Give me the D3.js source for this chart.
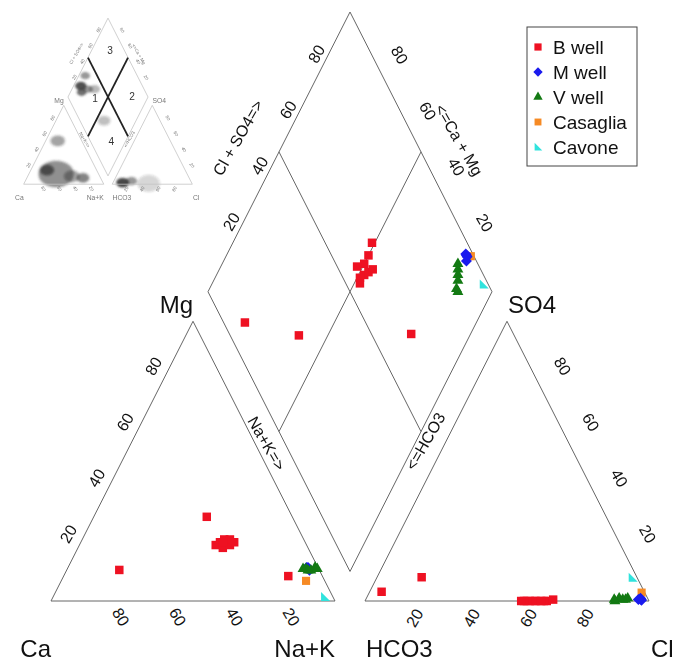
<!DOCTYPE html>
<html>
<head>
<meta charset="utf-8">
<script src="https://cdn.jsdelivr.net/npm/d3@7"></script>
<style>
  body { margin: 0; background: #fff; }
  svg { display: block; font-family: "Liberation Sans", Arial, sans-serif; }
</style>
</head>
<body>
<svg id="chart" width="674" height="661"></svg>
<script>
// ---- data -------------------------------------------------------------
const seriesNames  = ["B well", "M well", "V well", "Casaglia", "Cavone"];
const seriesColors = ["#ee1122", "#1a1aee", "#137a13", "#f68a24", "#30e3dd"];
// drawing order of the series (later ones sit on top)
const seriesOrder  = [0, 3, 4, 1, 2];

// one entry per sample: series index, Mg %, Na+K % (Ca is the remainder),
// SO4 %, Cl % (HCO3 is the remainder) — all in meq %
const sampleSeries = [0, 0, 0, 0, 0, 0, 0, 0, 0, 0, 0, 0,
                      1, 1, 1, 1,
                      2, 2, 2, 2, 2, 2,
                      3,
                      4];
const mgPct  = [11.1, 30.1, 8.9, 21, 22, 20, 21, 19, 20, 22, 21, 21,
                12, 12, 11.5, 11,
                11.5, 11.5, 11, 11, 12, 11.5,
                7.2,
                1.4];
const naKPct = [18.5, 39.8, 79.1, 49, 50, 48, 52, 51, 53, 52, 50, 54,
                84.5, 84, 85, 85.5,
                83, 84, 85, 86, 87, 88,
                86.2,
                95.8];
const so4Pct = [3.3, 8.5, 0, 0.5, 0, 0, 0, 0, 0, 0, 0, 0,
                0.5, 1, 0.3, 0.5,
                1, 0.5, 0.5, 1, 0, 0.5,
                3,
                8.3];
const clPct  = [4.2, 15.7, 64, 66, 60, 57, 58, 56, 60, 55, 63, 62,
                97, 96.5, 97.2, 96,
                92, 91.5, 90.5, 89, 88, 87.5,
                95.9,
                90.1];

const tickValues = [20, 40, 60, 80];

// background classification sketch: density clouds of a reference data set
// (cation: Mg %, Na+K % | diamond: Na+K %, Cl+SO4 % | anion: SO4 %, Cl %)
const cloudPlot = ["dia", "dia", "dia", "dia", "dia", "cat", "cat", "cat", "cat", "cat", "ani", "ani", "ani", "dia"];
const cloudA    = [9, 14, 20, 28, 8, 13, 18, 10, 55, 8, 2, 4, 1, 60];
const cloudB    = [23, 20, 30, 38, 35, 34, 20, 55, 15, 70, 12, 22, 45, 30];
const cloudR    = [7, 6, 6, 7, 6, 22, 9, 10, 9, 8, 8, 7, 14, 8];
const cloudOp   = [0.85, 0.7, 0.5, 0.35, 0.5, 0.55, 0.75, 0.45, 0.45, 0.6, 0.9, 0.5, 0.2, 0.3];
const zoneNames = ["1", "2", "3", "4"];
const zoneNaK   = [35, 80, 23, 82];
const zoneClSO4 = [33, 80, 82, 26];

// ---- layout -----------------------------------------------------------
const S3 = Math.sqrt(3) / 2;
const GAP = 0.1056;                       // gap between the two triangles (side = 1)
const x = d3.scaleLinear().domain([0, 2 + GAP]).range([51, 649]);
const y = d3.scaleLinear().domain([0, 1]).range([601, 278]);
const uB = 1 + GAP / 2, vB = GAP * S3;    // bottom vertex of the diamond

const cat = (mg, na) => [na / 100 + mg / 200, mg / 100 * S3];
const ani = (so4, cl) => [1 + GAP + cl / 100 + so4 / 200, so4 / 100 * S3];
const dia = (na, clso4) => {
  const n = na / 100, h = 1 - clso4 / 100;
  return [uB + 0.5 * (n - h), vB + S3 * (2 - n - h)];
};
const P = p => [x(p[0]), y(p[1])];

const svg = d3.select("#chart");

svg.append("defs").call(defs => {
  defs.append("filter").attr("id", "soft").attr("x", "-10%").attr("y", "-10%")
    .attr("width", "120%").attr("height", "120%")
    .append("feGaussianBlur").attr("stdDeviation", 0.6);
  defs.append("filter").attr("id", "cloud").attr("x", "-50%").attr("y", "-50%")
    .attr("width", "200%").attr("height", "200%")
    .append("feGaussianBlur").attr("stdDeviation", 3.2);
});

// ---- frame: triangles, diamond, ticks and labels ----------------------
function drawFrame(g, o) {
  const line = d3.line().x(d => x(d[0])).y(d => y(d[1]));
  const outlines = [
    [cat(0, 0), cat(0, 100), cat(100, 0)],
    [ani(0, 0), ani(0, 100), ani(100, 0)],
    [dia(100, 0), dia(0, 0), dia(0, 100), dia(100, 100)]
  ];
  g.selectAll("path.outline").data(outlines).join("path")
    .attr("class", "outline")
    .attr("d", d => line(d) + "Z")
    .attr("fill", "none").attr("stroke", o.stroke).attr("stroke-width", o.width)
    .attr("vector-effect", "non-scaling-stroke");

  g.selectAll("path.inner").data([[dia(0, 50), dia(100, 50)], [dia(50, 0), dia(50, 100)]]).join("path")
    .attr("class", "inner")
    .attr("d", d => line(d))
    .attr("fill", "none").attr("stroke", o.innerStroke).attr("stroke-width", o.innerWidth)
    .attr("vector-effect", "non-scaling-stroke");

  const axes = [
    { at: t => cat(0, 100 - t), dx: 13, dy: 16, rot: 60 },   // Ca
    { at: t => cat(t, 0),       dx: -11, dy: -11, rot: -60 }, // Mg
    { at: t => ani(0, t),       dx: -7, dy: 17, rot: -60 },  // Cl
    { at: t => ani(t, 100 - t), dx: 27, dy: -11, rot: 60 },  // SO4
    { at: t => dia(0, t),       dx: -5, dy: -14, rot: -60 }, // Cl + SO4
    { at: t => dia(100 - t, 100), dx: 21, dy: -13, rot: 60 } // Ca + Mg
  ];
  const ticks = axes.flatMap(a => tickValues.map(t => {
    const p = P(a.at(t));
    return { t, px: p[0] + a.dx, py: p[1] + a.dy, rot: a.rot };
  }));
  g.selectAll("text.tick").data(ticks).join("text")
    .attr("class", "tick")
    .attr("transform", d => `translate(${d.px},${d.py}) rotate(${d.rot})`)
    .attr("text-anchor", "middle").attr("dominant-baseline", "central")
    .attr("font-size", 16).attr("fill", o.text)
    .text(d => d.t);

  const mid = (a, b) => [(a[0] + b[0]) / 2, (a[1] + b[1]) / 2];
  const titles = [
    { s: "Cl + SO4=>", p: P(dia(0, 55)), dx: -48, dy: 0, rot: -60 },
    { s: "<=Ca + Mg",  p: P(dia(45, 100)), dx: 45, dy: 2, rot: 60 },
    { s: "Na+K=>",     p: mid(P(cat(50, 50)), P(dia(50, 0))), dx: -5, dy: -3, rot: 60 },
    { s: "<=HCO3",     p: mid(P(ani(50, 0)), P(dia(100, 50))), dx: -3, dy: -5, rot: -60 }
  ];
  g.selectAll("text.title").data(titles).join("text")
    .attr("class", "title")
    .attr("transform", d => `translate(${d.p[0] + d.dx},${d.p[1] + d.dy}) rotate(${d.rot})`)
    .attr("text-anchor", "middle").attr("dominant-baseline", "central")
    .attr("font-size", 16).attr("fill", o.text)
    .text(d => d.s);

  const corners = [
    { s: "Ca",   p: P(cat(0, 0)),   anchor: "end",   dx: 0, dy: 56 },
    { s: "Na+K", p: P(cat(0, 100)), anchor: "end",   dx: 0, dy: 56 },
    { s: "HCO3", p: P(ani(0, 0)),   anchor: "start", dx: 1, dy: 56 },
    { s: "Cl",   p: P(ani(0, 100)), anchor: "start", dx: 2, dy: 56 },
    { s: "Mg",   p: P(cat(100, 0)), anchor: "end",   dx: 0, dy: -8 },
    { s: "SO4",  p: P(ani(100, 0)), anchor: "start", dx: 1, dy: -8 }
  ];
  g.selectAll("text.corner").data(corners).join("text")
    .attr("class", "corner")
    .attr("x", d => d.p[0] + d.dx).attr("y", d => d.p[1] + d.dy)
    .attr("text-anchor", d => d.anchor)
    .attr("font-size", 24).attr("fill", o.text)
    .text(d => d.s);
}

// ---- small classification sketch in the corner ------------------------
const k = 0.282;
const cx0 = x(dia(50, 50)[0]), cy0 = y(dia(50, 50)[1]);
const sketch = svg.append("g").attr("filter", "url(#soft)")
  .append("g")
  .attr("transform", `translate(${108 - k * cx0},${97 - k * cy0}) scale(${k})`);

const clouds = cloudPlot.map((p, i) => {
  const f = p === "dia" ? dia : p === "cat" ? cat : ani;
  return { c: P(f(cloudA[i], cloudB[i])), r: cloudR[i] / 100 * (x(1) - x(0)), op: cloudOp[i] };
});
sketch.append("g").attr("filter", "url(#cloud)")
  .selectAll("ellipse").data(clouds).join("ellipse")
  .attr("cx", d => d.c[0]).attr("cy", d => d.c[1])
  .attr("rx", d => d.r).attr("ry", d => d.r * 0.75)
  .attr("fill", "#333").attr("opacity", d => d.op);

drawFrame(sketch, { stroke: "#c4c4c4", width: 0.8, innerStroke: "#222", innerWidth: 1.8, text: "#777" });

sketch.selectAll("text.zone").data(zoneNames).join("text")
  .attr("class", "zone")
  .attr("x", (d, i) => x(dia(zoneNaK[i], zoneClSO4[i])[0]))
  .attr("y", (d, i) => y(dia(zoneNaK[i], zoneClSO4[i])[1]))
  .attr("text-anchor", "middle").attr("dominant-baseline", "central")
  .attr("font-size", 36).attr("fill", "#333")
  .text(d => d);

// ---- main diagram ----------------------------------------------------
drawFrame(svg.append("g"), { stroke: "#666", width: 1, innerStroke: "#666", innerWidth: 1, text: "#111" });

const shapePaths = [
  d3.symbol(d3.symbolSquare, 72)(),
  "M0,-5.5L5.5,0L0,5.5L-5.5,0Z",
  d3.symbol(d3.symbolTriangle, 52)(),
  d3.symbol(d3.symbolSquare, 66)(),
  "M-4,-5L-4,4L5,4Z"
];

const samples = sampleSeries.map((s, i) => ({
  s, mg: mgPct[i], na: naKPct[i], so4: so4Pct[i], cl: clPct[i]
}));
const marks = [];
seriesOrder.forEach(s => {
  samples.filter(d => d.s === s).forEach(d => {
    marks.push({ s, p: P(cat(d.mg, d.na)) });
    marks.push({ s, p: P(ani(d.so4, d.cl)) });
    marks.push({ s, p: P(dia(d.na, d.so4 + d.cl)) });
  });
});
svg.append("g").selectAll("path").data(marks).join("path")
  .attr("transform", d => `translate(${d.p[0]},${d.p[1]})`)
  .attr("d", d => shapePaths[d.s])
  .attr("fill", d => seriesColors[d.s]);

// ---- legend ----------------------------------------------------------
const legend = svg.append("g").attr("transform", "translate(527,27)");
legend.append("rect").attr("width", 110).attr("height", 139)
  .attr("fill", "#fff").attr("stroke", "#444").attr("stroke-width", 1);
const rows = legend.selectAll("g").data(seriesNames).join("g")
  .attr("transform", (d, i) => `translate(0,${20 + i * 25})`);
rows.append("path")
  .attr("transform", "translate(11,0) scale(0.85)")
  .attr("d", (d, i) => shapePaths[i])
  .attr("fill", (d, i) => seriesColors[i]);
rows.append("text").attr("x", 26).attr("dominant-baseline", "central")
  .attr("font-size", 19).attr("fill", "#111").text(d => d);
</script>
</body>
</html>
